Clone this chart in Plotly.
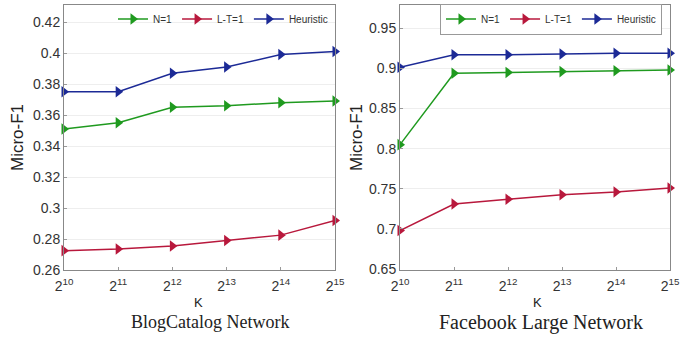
import plotly.graph_objects as go

# ---- data ----
k_exp = [10, 11, 12, 13, 14, 15]
k_labels = ["2<sup>10</sup>", "2<sup>11</sup>", "2<sup>12</sup>", "2<sup>13</sup>", "2<sup>14</sup>", "2<sup>15</sup>"]
series_names = ["N=1", "L-T=1", "Heuristic"]
colors = ["#1f9a1f", "#b8183c", "#1c2a96"]

blog_n1 = [0.351, 0.355, 0.365, 0.366, 0.368, 0.369]
blog_lt1 = [0.2725, 0.2735, 0.2755, 0.279, 0.2825, 0.292]
blog_heur = [0.375, 0.375, 0.387, 0.391, 0.399, 0.401]

fb_n1 = [0.805, 0.894, 0.895, 0.896, 0.897, 0.898]
fb_lt1 = [0.698, 0.731, 0.737, 0.7425, 0.746, 0.751]
fb_heur = [0.9015, 0.917, 0.917, 0.918, 0.919, 0.919]

blog_ticks = [0.26, 0.28, 0.3, 0.32, 0.34, 0.36, 0.38, 0.4, 0.42]
blog_ticktext = ["0.26", "0.28", "0.3", "0.32", "0.34", "0.36", "0.38", "0.4", "0.42"]
fb_ticks = [0.65, 0.7, 0.75, 0.8, 0.85, 0.9, 0.95]
fb_ticktext = ["0.65", "0.7", "0.75", "0.8", "0.85", "0.9", "0.95"]

fig = go.Figure()

for name, vals, col in zip(series_names, [blog_n1, blog_lt1, blog_heur], colors):
    fig.add_trace(go.Scatter(x=k_exp, y=vals, name=name, mode="lines+markers",
                             line=dict(color=col, width=1.5),
                             marker=dict(symbol="triangle-right", size=10, color=col),
                             cliponaxis=False, xaxis="x", yaxis="y", legend="legend"))
for name, vals, col in zip(series_names, [fb_n1, fb_lt1, fb_heur], colors):
    fig.add_trace(go.Scatter(x=k_exp, y=vals, name=name, mode="lines+markers",
                             line=dict(color=col, width=1.5),
                             marker=dict(symbol="triangle-right", size=10, color=col),
                             cliponaxis=False, xaxis="x2", yaxis="y2", legend="legend2"))

tickfont = dict(family="Liberation Sans, Arial, sans-serif", size=14, color="#333")
common_x = dict(range=[10, 15], tickvals=k_exp, ticktext=k_labels, showgrid=False,
                showline=True, mirror=True, linecolor="#888", linewidth=1,
                ticks="inside", ticklen=3, tickcolor="#999", tickfont=tickfont, zeroline=False,
                automargin=False, ticklabelstandoff=3)
common_y = dict(showgrid=True, gridcolor="#eeeeee", showline=True, mirror=True,
                linecolor="#888", linewidth=1, ticks="inside", ticklen=3, tickcolor="#999",
                tickfont=tickfont, zeroline=False, automargin=False)

y0, y1 = 67 / 337, 332 / 337
legfont = dict(family="Liberation Sans, Arial, sans-serif", size=10, color="#333")
fig.update_layout(
    width=700, height=337, margin=dict(l=0, r=0, t=0, b=0, autoexpand=False),
    paper_bgcolor="white", plot_bgcolor="white",
    xaxis=dict(domain=[64 / 700, 335 / 700], anchor="y", **common_x),
    yaxis=dict(domain=[y0, y1], anchor="x", range=[0.26, 0.431],
               tickvals=blog_ticks, ticktext=blog_ticktext, **common_y),
    xaxis2=dict(domain=[400 / 700, 670 / 700], anchor="y2", **common_x),
    yaxis2=dict(domain=[y0, y1], anchor="x2", range=[0.6488, 0.979],
                tickvals=fb_ticks, ticktext=fb_ticktext, **common_y),
    legend=dict(orientation="h", x=333 / 700, xanchor="right", y=1 - 19 / 337, yanchor="middle",
                xref="paper", yref="paper", bgcolor="rgba(255,255,255,0)",
                font=legfont, itemwidth=30, tracegroupgap=0),
    legend2=dict(orientation="h", x=662 / 700, xanchor="right", y=1 - 19 / 337, yanchor="middle",
                 xref="paper", yref="paper", bgcolor="white", bordercolor="#999", borderwidth=1,
                 font=legfont, itemwidth=30),
    showlegend=True,
)

ann_font = dict(family="Liberation Sans, Arial, sans-serif", size=17, color="#222")
fig.add_annotation(text="Micro-F1", x=18 / 700, y=1 - 138 / 337, xref="paper", yref="paper",
                   textangle=-90, showarrow=False, font=ann_font, xanchor="center", yanchor="middle")
fig.add_annotation(text="Micro-F1", x=357 / 700, y=1 - 138 / 337, xref="paper", yref="paper",
                   textangle=-90, showarrow=False, font=ann_font, xanchor="center", yanchor="middle")
fig.add_annotation(text="K", x=198 / 700, y=1 - 302 / 337, xref="paper", yref="paper",
                   showarrow=False, font=dict(family="Liberation Sans, Arial, sans-serif", size=13, color="#222"),
                   xanchor="center", yanchor="middle")
fig.add_annotation(text="K", x=537 / 700, y=1 - 302 / 337, xref="paper", yref="paper",
                   showarrow=False, font=dict(family="Liberation Sans, Arial, sans-serif", size=13, color="#222"),
                   xanchor="center", yanchor="middle")
fig.add_annotation(text="BlogCatalog Network", x=210 / 700, y=1 - 322 / 337, xref="paper", yref="paper",
                   showarrow=False, font=dict(family="Liberation Serif, Times New Roman, serif", size=18, color="#222"),
                   xanchor="center", yanchor="middle")
fig.add_annotation(text="Facebook Large Network", x=541 / 700, y=1 - 322 / 337, xref="paper", yref="paper",
                   showarrow=False, font=dict(family="Liberation Serif, Times New Roman, serif", size=20, color="#222"),
                   xanchor="center", yanchor="middle")

fig.write_html("out.html", config={"displayModeBar": False},
               post_script="document.body.style.margin='0';document.body.style.overflow='hidden';")
